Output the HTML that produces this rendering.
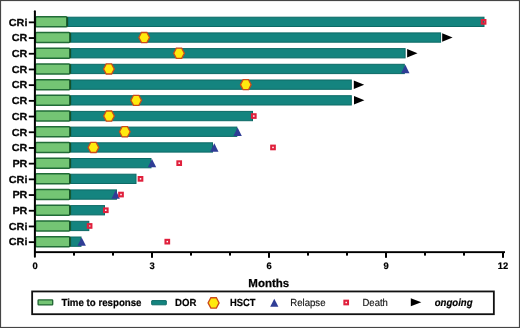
<!DOCTYPE html>
<html><head><meta charset="utf-8"><style>
html,body{margin:0;padding:0;background:#fff;}
svg{display:block;will-change:transform;filter:blur(0.35px);}
text{font-family:"Liberation Sans",sans-serif;text-rendering:geometricPrecision;}
.lab{font-size:10.2px;font-weight:bold;text-anchor:end;fill:#000;stroke:#000;stroke-width:0.25px;}
.tl{font-size:9.4px;font-weight:bold;text-anchor:middle;fill:#000;stroke:#000;stroke-width:0.2px;}
.ax{font-size:11.5px;font-weight:bold;text-anchor:middle;fill:#000;stroke:#000;stroke-width:0.25px;}
.lg{font-size:10.3px;font-weight:bold;fill:#000;stroke:#000;stroke-width:0.2px;}
.lr{font-size:10.3px;fill:#111;stroke:#111;stroke-width:0.15px;}
.li{font-size:10.3px;font-weight:bold;font-style:italic;fill:#000;stroke:#000;stroke-width:0.2px;}
</style></head><body>
<svg width="520" height="328" viewBox="0 0 520 328">
<rect x="0" y="0" width="520" height="328" fill="#fff"/>
<rect x="67.90" y="17.20" width="416.10" height="9.30" fill="#14847f" stroke="#0c6a66" stroke-width="1"/><rect x="35.5" y="16.85" width="31.65" height="10.00" rx="1.2" fill="#74c574" stroke="#216c37" stroke-width="1.5"/><rect x="66.30" y="17.00" width="1.6" height="9.70" rx="0.6" fill="#124f26"/><text transform="translate(27.4 25.60) scale(1.06 1)" class="lab">CRi</text><rect x="28.8" y="21.45" width="6" height="1.8" fill="#000"/><rect x="70.90" y="32.90" width="369.70" height="9.30" fill="#14847f" stroke="#0c6a66" stroke-width="1"/><rect x="35.5" y="32.55" width="34.65" height="10.00" rx="1.2" fill="#74c574" stroke="#216c37" stroke-width="1.5"/><rect x="69.30" y="32.70" width="1.6" height="9.70" rx="0.6" fill="#124f26"/><polygon points="138.85,37.55 141.52,32.50 146.88,32.50 149.55,37.55 146.88,42.60 141.52,42.60" fill="#ffea0e" stroke="#cc4a1a" stroke-width="1.3"/><text transform="translate(27.4 41.30) scale(1.06 1)" class="lab">CR</text><rect x="28.8" y="37.15" width="6" height="1.8" fill="#000"/><rect x="70.90" y="48.60" width="334.20" height="9.30" fill="#14847f" stroke="#0c6a66" stroke-width="1"/><rect x="35.5" y="48.25" width="34.65" height="10.00" rx="1.2" fill="#74c574" stroke="#216c37" stroke-width="1.5"/><rect x="69.30" y="48.40" width="1.6" height="9.70" rx="0.6" fill="#124f26"/><polygon points="173.65,53.25 176.32,48.20 181.68,48.20 184.35,53.25 181.68,58.30 176.32,58.30" fill="#ffea0e" stroke="#cc4a1a" stroke-width="1.3"/><text transform="translate(27.4 57.00) scale(1.06 1)" class="lab">CR</text><rect x="28.8" y="52.85" width="6" height="1.8" fill="#000"/><rect x="70.90" y="64.30" width="333.40" height="9.30" fill="#14847f" stroke="#0c6a66" stroke-width="1"/><rect x="35.5" y="63.95" width="34.65" height="10.00" rx="1.2" fill="#74c574" stroke="#216c37" stroke-width="1.5"/><rect x="69.30" y="64.10" width="1.6" height="9.70" rx="0.6" fill="#124f26"/><polygon points="103.55,68.95 106.23,63.90 111.58,63.90 114.25,68.95 111.58,74.00 106.23,74.00" fill="#ffea0e" stroke="#cc4a1a" stroke-width="1.3"/><polygon points="401.10,73.15 405.30,64.75 409.50,73.15" fill="#2f3d96"/><text transform="translate(27.4 72.70) scale(1.06 1)" class="lab">CR</text><rect x="28.8" y="68.55" width="6" height="1.8" fill="#000"/><rect x="70.90" y="80.00" width="280.40" height="9.30" fill="#14847f" stroke="#0c6a66" stroke-width="1"/><rect x="35.5" y="79.65" width="34.65" height="10.00" rx="1.2" fill="#74c574" stroke="#216c37" stroke-width="1.5"/><rect x="69.30" y="79.80" width="1.6" height="9.70" rx="0.6" fill="#124f26"/><polygon points="240.45,84.65 243.12,79.60 248.48,79.60 251.15,84.65 248.48,89.70 243.12,89.70" fill="#ffea0e" stroke="#cc4a1a" stroke-width="1.3"/><text transform="translate(27.4 88.40) scale(1.06 1)" class="lab">CR</text><rect x="28.8" y="84.25" width="6" height="1.8" fill="#000"/><rect x="70.90" y="95.70" width="280.40" height="9.30" fill="#14847f" stroke="#0c6a66" stroke-width="1"/><rect x="35.5" y="95.35" width="34.65" height="10.00" rx="1.2" fill="#74c574" stroke="#216c37" stroke-width="1.5"/><rect x="69.30" y="95.50" width="1.6" height="9.70" rx="0.6" fill="#124f26"/><polygon points="130.85,100.35 133.52,95.30 138.88,95.30 141.55,100.35 138.88,105.40 133.52,105.40" fill="#ffea0e" stroke="#cc4a1a" stroke-width="1.3"/><text transform="translate(27.4 104.10) scale(1.06 1)" class="lab">CR</text><rect x="28.8" y="99.95" width="6" height="1.8" fill="#000"/><rect x="70.90" y="111.40" width="181.60" height="9.30" fill="#14847f" stroke="#0c6a66" stroke-width="1"/><rect x="35.5" y="111.05" width="34.65" height="10.00" rx="1.2" fill="#74c574" stroke="#216c37" stroke-width="1.5"/><rect x="69.30" y="111.20" width="1.6" height="9.70" rx="0.6" fill="#124f26"/><polygon points="103.65,116.05 106.33,111.00 111.67,111.00 114.35,116.05 111.67,121.10 106.33,121.10" fill="#ffea0e" stroke="#cc4a1a" stroke-width="1.3"/><text transform="translate(27.4 119.80) scale(1.06 1)" class="lab">CR</text><rect x="28.8" y="115.65" width="6" height="1.8" fill="#000"/><rect x="70.90" y="127.10" width="165.90" height="9.30" fill="#14847f" stroke="#0c6a66" stroke-width="1"/><rect x="35.5" y="126.75" width="34.65" height="10.00" rx="1.2" fill="#74c574" stroke="#216c37" stroke-width="1.5"/><rect x="69.30" y="126.90" width="1.6" height="9.70" rx="0.6" fill="#124f26"/><polygon points="119.45,131.75 122.12,126.70 127.47,126.70 130.15,131.75 127.47,136.80 122.12,136.80" fill="#ffea0e" stroke="#cc4a1a" stroke-width="1.3"/><polygon points="233.40,135.95 237.60,127.55 241.80,135.95" fill="#2f3d96"/><text transform="translate(27.4 135.50) scale(1.06 1)" class="lab">CR</text><rect x="28.8" y="131.35" width="6" height="1.8" fill="#000"/><rect x="70.90" y="142.80" width="141.60" height="9.30" fill="#14847f" stroke="#0c6a66" stroke-width="1"/><rect x="35.5" y="142.45" width="34.65" height="10.00" rx="1.2" fill="#74c574" stroke="#216c37" stroke-width="1.5"/><rect x="69.30" y="142.60" width="1.6" height="9.70" rx="0.6" fill="#124f26"/><polygon points="88.05,147.45 90.73,142.40 96.08,142.40 98.75,147.45 96.08,152.50 90.73,152.50" fill="#ffea0e" stroke="#cc4a1a" stroke-width="1.3"/><polygon points="210.10,151.65 214.30,143.25 218.50,151.65" fill="#2f3d96"/><text transform="translate(27.4 151.20) scale(1.06 1)" class="lab">CR</text><rect x="28.8" y="147.05" width="6" height="1.8" fill="#000"/><rect x="70.90" y="158.50" width="80.10" height="9.30" fill="#14847f" stroke="#0c6a66" stroke-width="1"/><rect x="35.5" y="158.15" width="34.65" height="10.00" rx="1.2" fill="#74c574" stroke="#216c37" stroke-width="1.5"/><rect x="69.30" y="158.30" width="1.6" height="9.70" rx="0.6" fill="#124f26"/><polygon points="147.80,167.35 152.00,158.95 156.20,167.35" fill="#2f3d96"/><text transform="translate(27.4 166.90) scale(1.06 1)" class="lab">PR</text><rect x="28.8" y="162.75" width="6" height="1.8" fill="#000"/><rect x="70.70" y="174.20" width="65.30" height="9.30" fill="#14847f" stroke="#0c6a66" stroke-width="1"/><rect x="35.5" y="173.85" width="34.45" height="10.00" rx="1.2" fill="#74c574" stroke="#216c37" stroke-width="1.5"/><rect x="69.10" y="174.00" width="1.6" height="9.70" rx="0.6" fill="#124f26"/><text transform="translate(27.4 182.60) scale(1.06 1)" class="lab">CRi</text><rect x="28.8" y="178.45" width="6" height="1.8" fill="#000"/><rect x="70.70" y="189.90" width="45.80" height="9.30" fill="#14847f" stroke="#0c6a66" stroke-width="1"/><rect x="35.5" y="189.55" width="34.45" height="10.00" rx="1.2" fill="#74c574" stroke="#216c37" stroke-width="1.5"/><rect x="69.10" y="189.70" width="1.6" height="9.70" rx="0.6" fill="#124f26"/><polygon points="111.50,198.75 115.70,190.35 119.90,198.75" fill="#2f3d96"/><text transform="translate(27.4 198.30) scale(1.06 1)" class="lab">PR</text><rect x="28.8" y="194.15" width="6" height="1.8" fill="#000"/><rect x="70.70" y="205.60" width="33.80" height="9.30" fill="#14847f" stroke="#0c6a66" stroke-width="1"/><rect x="35.5" y="205.25" width="34.45" height="10.00" rx="1.2" fill="#74c574" stroke="#216c37" stroke-width="1.5"/><rect x="69.10" y="205.40" width="1.6" height="9.70" rx="0.6" fill="#124f26"/><text transform="translate(27.4 214.00) scale(1.06 1)" class="lab">PR</text><rect x="28.8" y="209.85" width="6" height="1.8" fill="#000"/><rect x="70.70" y="221.30" width="18.10" height="9.30" fill="#14847f" stroke="#0c6a66" stroke-width="1"/><rect x="35.5" y="220.95" width="34.45" height="10.00" rx="1.2" fill="#74c574" stroke="#216c37" stroke-width="1.5"/><rect x="69.10" y="221.10" width="1.6" height="9.70" rx="0.6" fill="#124f26"/><text transform="translate(27.4 229.70) scale(1.06 1)" class="lab">CRi</text><rect x="28.8" y="225.55" width="6" height="1.8" fill="#000"/><rect x="70.70" y="237.00" width="10.30" height="9.30" fill="#14847f" stroke="#0c6a66" stroke-width="1"/><rect x="35.5" y="236.65" width="34.45" height="10.00" rx="1.2" fill="#74c574" stroke="#216c37" stroke-width="1.5"/><rect x="69.10" y="236.80" width="1.6" height="9.70" rx="0.6" fill="#124f26"/><polygon points="77.50,245.85 81.70,237.45 85.90,245.85" fill="#2f3d96"/><text transform="translate(27.4 245.40) scale(1.06 1)" class="lab">CRi</text><rect x="28.8" y="241.25" width="6" height="1.8" fill="#000"/>
<rect x="481.80" y="20.05" width="3.60" height="3.60" fill="none" stroke="#e0203c" stroke-width="2.1"/><polygon points="442.20,33.30 452.60,37.55 442.20,41.80" fill="#000"/><polygon points="407.10,49.00 417.50,53.25 407.10,57.50" fill="#000"/><polygon points="353.80,80.40 364.20,84.65 353.80,88.90" fill="#000"/><polygon points="354.00,96.10 364.40,100.35 354.00,104.60" fill="#000"/><rect x="252.00" y="114.25" width="3.60" height="3.60" fill="none" stroke="#e0203c" stroke-width="2.1"/><rect x="271.20" y="145.65" width="3.60" height="3.60" fill="none" stroke="#e0203c" stroke-width="2.1"/><rect x="177.40" y="161.35" width="3.60" height="3.60" fill="none" stroke="#e0203c" stroke-width="2.1"/><rect x="138.70" y="177.05" width="3.60" height="3.60" fill="none" stroke="#e0203c" stroke-width="2.1"/><rect x="119.20" y="192.75" width="3.60" height="3.60" fill="none" stroke="#e0203c" stroke-width="2.1"/><rect x="104.00" y="208.45" width="3.60" height="3.60" fill="none" stroke="#e0203c" stroke-width="2.1"/><rect x="87.80" y="224.15" width="3.60" height="3.60" fill="none" stroke="#e0203c" stroke-width="2.1"/><rect x="165.50" y="239.85" width="3.60" height="3.60" fill="none" stroke="#e0203c" stroke-width="2.1"/>
<rect x="33.9" y="10.3" width="2" height="247.5" rx="1" fill="#000"/><rect x="34" y="251.2" width="471" height="1.9" fill="#000"/>
<rect x="73.00" y="252" width="2" height="3.60" fill="#000"/><rect x="112.00" y="252" width="2" height="3.60" fill="#000"/><rect x="151.00" y="252" width="2" height="5.80" fill="#000"/><rect x="190.00" y="252" width="2" height="3.60" fill="#000"/><rect x="229.00" y="252" width="2" height="3.60" fill="#000"/><rect x="268.00" y="252" width="2" height="5.80" fill="#000"/><rect x="307.00" y="252" width="2" height="3.60" fill="#000"/><rect x="346.00" y="252" width="2" height="3.60" fill="#000"/><rect x="385.00" y="252" width="2" height="5.80" fill="#000"/><rect x="424.00" y="252" width="2" height="3.60" fill="#000"/><rect x="463.00" y="252" width="2" height="3.60" fill="#000"/><rect x="502.00" y="252" width="2" height="5.80" fill="#000"/><text x="35.00" y="268.7" class="tl">0</text><text x="152.00" y="268.7" class="tl">3</text><text x="269.00" y="268.7" class="tl">6</text><text x="386.00" y="268.7" class="tl">9</text><text x="503.00" y="268.7" class="tl">12</text>
<text x="268.8" y="286.9" class="ax">Months</text>

<rect x="32.15" y="291.45" width="461.7" height="22.75" fill="none" stroke="#111" stroke-width="1.8"/>
<rect x="38.1" y="299.9" width="14.6" height="5.0" rx="0.6" fill="#74c574" stroke="#1f6332" stroke-width="1.3"/>
<text transform="translate(61.4 306.0) scale(0.9417 1)" class="lg">Time to response</text>
<rect x="151.7" y="300.6" width="14.6" height="4.2" rx="0.4" fill="#14847f" stroke="#0c6a66" stroke-width="1"/>
<text transform="translate(175.1 306.1) scale(0.932 1)" class="lg">DOR</text>
<polygon points="208.10,302.90 210.85,297.75 216.35,297.75 219.10,302.90 216.35,308.05 210.85,308.05" fill="#ffea0e" stroke="#cc4a1a" stroke-width="1.3"/>
<text transform="translate(230.0 306.1) scale(0.9078 1)" class="lg">HSCT</text>
<polygon points="270.20,306.70 274.30,298.70 278.40,306.70" fill="#2f3d96"/>
<text transform="translate(290.3 306.2) scale(0.932 1)" class="lr">Relapse</text>
<rect x="344.40" y="300.70" width="3.60" height="3.60" fill="none" stroke="#e0203c" stroke-width="2.1"/>
<text transform="translate(362.5 306.2) scale(0.9223 1)" class="lr">Death</text>
<polygon points="410.80,298.20 421.30,302.20 410.80,306.20" fill="#000"/>
<text transform="translate(434.7 306.1) scale(0.932 1)" class="li">ongoing</text>

<rect x="0.5" y="0.5" width="519" height="327" fill="none" stroke="#454545" stroke-width="1.2"/>
</svg>
</body></html>
